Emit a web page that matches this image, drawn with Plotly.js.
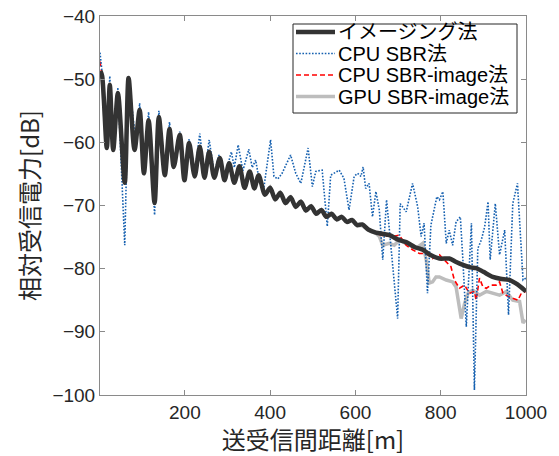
<!DOCTYPE html>
<html>
<head>
<meta charset="utf-8">
<script src="https://cdn.plot.ly/plotly-3.0.1.min.js"></script>
<style>html,body{margin:0;padding:0;background:#fff;}#chart{width:559px;height:456px;}</style>
</head>
<body>
<div id="chart"></div>
<script>
// イメージング法 (black)
const imgX = [2, 6, 17, 24, 32, 43, 59, 68, 82, 94, 104, 115, 129, 139, 153, 164, 174, 188, 199, 210, 223, 235, 246, 257, 269, 282, 293, 304, 316, 328, 340, 352, 363, 373, 388, 400, 412, 424, 436, 448, 460, 472, 484, 496, 508, 520, 532, 544, 556, 568, 580, 592, 604, 616, 630, 648, 665, 680, 700, 719, 740, 758, 775, 797, 820, 835, 852, 870, 883, 900, 922, 940, 962, 980, 1000];
const imgY = [-48.7, -49.5, -60.9, -50.9, -61.2, -52.2, -66.4, -49.8, -61.2, -54.9, -64.9, -56.5, -69.6, -56.0, -65.2, -57.9, -63.9, -58.8, -66.0, -60.1, -65.4, -60.7, -65.6, -61.5, -65.6, -62.5, -66.0, -63.3, -66.4, -63.8, -67.2, -64.6, -67.3, -65.2, -68.3, -67.2, -69.0, -68.0, -69.6, -68.7, -70.2, -69.4, -70.8, -70.1, -71.3, -70.7, -71.8, -71.3, -72.2, -71.8, -72.6, -72.3, -73.1, -73.0, -73.8, -74.3, -74.5, -74.7, -75.4, -75.8, -76.6, -77.0, -77.8, -78.4, -78.4, -78.9, -79.4, -79.8, -79.9, -80.5, -81.3, -81.6, -81.8, -82.5, -83.6];

// CPU SBR法 (blue dotted)
const cpuX = [1, 6, 17, 24, 32, 43, 59, 68, 86, 94, 104, 115, 129, 139, 153, 164, 174, 188, 199, 210, 223, 235, 246, 257, 269, 280, 293, 309, 316, 325, 336, 350, 358, 366, 373, 384, 401, 409, 418, 428, 448, 460, 472, 489, 499, 507, 522, 534, 542, 562, 573, 585, 597, 605, 613, 618, 624, 632, 640, 648, 656, 664, 673, 683, 699, 705, 719, 734, 746, 754, 761, 769, 777, 791, 797, 805, 813, 820, 828, 836, 846, 852, 860, 872, 879, 887, 895, 903, 911, 916, 928, 938, 950, 959, 969, 980, 985, 993, 1000];
const cpuY = [-45.8, -49.0, -60.5, -49.5, -61.5, -51.3, -76.3, -49.8, -60.5, -53.8, -64.0, -55.2, -71.5, -55.0, -65.0, -56.8, -63.5, -58.3, -65.5, -59.5, -65.0, -58.6, -65.2, -59.6, -65.0, -62.0, -65.5, -61.5, -64.0, -60.4, -64.5, -61.1, -64.0, -62.8, -65.5, -67.8, -59.6, -65.4, -65.8, -64.9, -62.0, -64.9, -66.5, -60.9, -67.0, -64.6, -64.4, -73.3, -65.2, -64.4, -65.7, -70.7, -65.4, -64.9, -65.4, -63.9, -67.3, -66.5, -71.8, -67.8, -70.7, -78.6, -69.1, -76.5, -87.9, -69.7, -71.0, -66.5, -70.2, -74.9, -72.8, -83.9, -73.1, -68.6, -69.1, -67.8, -76.0, -73.9, -76.3, -72.6, -71.8, -78.6, -89.2, -72.8, -99.2, -76.8, -75.5, -73.4, -69.4, -78.6, -69.7, -77.8, -73.9, -87.3, -69.7, -66.5, -72.3, -81.8, -81.5];

// CPU SBR-image法 (red dashed)
const cpuImgX = [1, 6, 17, 24, 32, 43, 59, 68, 82, 94, 104, 115, 129, 139, 153, 164, 174, 188, 199, 210, 223, 235, 246, 257, 269, 282, 293, 304, 316, 328, 340, 352, 363, 373, 388, 400, 412, 424, 436, 448, 460, 472, 484, 496, 508, 520, 532, 544, 556, 568, 580, 592, 604, 616, 630, 648, 665, 687, 703, 719, 734, 750, 766, 781, 797, 809, 816, 824, 832, 844, 856, 867, 879, 883, 891, 899, 907, 918, 930, 938, 946, 958, 969, 981, 989, 999];
const cpuImgY = [-47.2, -49.5, -60.9, -50.9, -61.2, -52.2, -66.4, -49.8, -61.2, -54.9, -64.9, -56.5, -69.6, -56.0, -65.2, -57.9, -63.9, -58.8, -66.0, -60.1, -65.4, -60.7, -65.6, -61.5, -65.6, -62.5, -66.0, -63.3, -66.4, -63.8, -67.2, -64.6, -67.3, -65.2, -68.3, -67.2, -69.0, -68.0, -69.6, -68.7, -70.2, -69.4, -70.8, -70.1, -71.3, -70.7, -71.8, -71.3, -72.2, -71.8, -72.6, -72.3, -73.1, -73.0, -73.8, -74.4, -74.8, -74.9, -74.7, -76.3, -77.0, -77.6, -77.6, -78.4, -77.8, -78.6, -79.1, -79.7, -81.8, -83.1, -82.6, -83.9, -83.6, -85.0, -81.5, -82.9, -83.1, -82.6, -82.6, -82.1, -83.9, -84.4, -84.7, -85.0, -83.9, -83.6];

// GPU SBR-image法 (gray)
const gpuImgX = [2, 6, 17, 24, 32, 43, 59, 68, 82, 94, 104, 115, 129, 139, 153, 164, 174, 188, 199, 210, 223, 235, 246, 257, 269, 282, 293, 304, 316, 328, 340, 352, 363, 373, 388, 400, 412, 424, 436, 448, 460, 472, 484, 496, 508, 520, 532, 544, 556, 568, 580, 592, 604, 616, 632, 648, 656, 664, 679, 691, 703, 719, 742, 758, 766, 773, 781, 789, 797, 813, 828, 836, 848, 856, 864, 875, 891, 907, 922, 938, 954, 969, 985, 993, 999];
const gpuImgY = [-48.7, -49.5, -60.9, -50.9, -61.2, -52.2, -66.4, -49.8, -61.2, -54.9, -64.9, -56.5, -69.6, -56.0, -65.2, -57.9, -63.9, -58.8, -66.0, -60.1, -65.4, -60.7, -65.6, -61.5, -65.6, -62.5, -66.0, -63.3, -66.4, -63.8, -67.2, -64.6, -67.3, -65.2, -68.3, -67.2, -69.0, -68.0, -69.6, -68.7, -70.2, -69.4, -70.8, -70.1, -71.3, -70.7, -71.8, -71.3, -72.2, -71.8, -72.6, -72.3, -73.1, -73.2, -73.9, -74.4, -74.9, -76.3, -76.0, -76.3, -75.5, -76.0, -76.8, -76.0, -78.6, -82.3, -82.1, -81.3, -81.3, -81.8, -82.1, -82.9, -87.9, -85.5, -83.9, -83.4, -84.2, -83.6, -83.9, -84.2, -83.6, -85.0, -85.2, -88.6, -88.1];

const seriesNames = ['イメージング法', 'CPU SBR法', 'CPU SBR-image法', 'GPU SBR-image法'];
const xTicks = [200, 400, 600, 800, 1000];
const yTicks = [-100, -90, -80, -70, -60, -50, -40];

const numFont = 'Liberation Sans, Arial, Noto Sans CJK JP, sans-serif';
const jpFont = 'Noto Sans CJK JP, Liberation Sans, sans-serif';

const styles = [
  {color: '#333333', width: 4.5, dash: 'solid'},
  {color: '#1560b0', width: 1.6, dash: '1.6px,1.6px'},
  {color: '#ff0000', width: 1.6, dash: '5px,3px'},
  {color: '#bdbdbd', width: 3.5, dash: 'solid'}
];

const traces = [
  {x: gpuImgX, y: gpuImgY, name: seriesNames[3], mode: 'lines', line: styles[3]},
  {x: cpuImgX, y: cpuImgY, name: seriesNames[2], mode: 'lines', line: styles[2]},
  {x: cpuX, y: cpuY, name: seriesNames[1], mode: 'lines', line: styles[1]},
  {x: imgX, y: imgY, name: seriesNames[0], mode: 'lines',
   line: Object.assign({}, styles[0], {shape: 'spline', smoothing: 0.8})}
];

// hand-built legend (MATLAB style box)
const px2x = p => (p - 100) / 426;
const py2y = p => 1 - (p - 16) / 379;
const rowY = [32, 53.5, 75, 96.5];
const shapes = [{
  type: 'rect', xref: 'paper', yref: 'paper',
  x0: px2x(293), x1: px2x(517), y0: py2y(113), y1: py2y(24),
  fillcolor: '#ffffff', line: {color: '#262626', width: 1}, layer: 'above'
}];
const annotations = [];
seriesNames.forEach((nm, i) => {
  shapes.push({type: 'line', xref: 'paper', yref: 'paper',
    x0: px2x(296), x1: px2x(335), y0: py2y(rowY[i]), y1: py2y(rowY[i]),
    line: {color: styles[i].color, width: styles[i].width, dash: styles[i].dash}, layer: 'above'});
  annotations.push({xref: 'paper', yref: 'paper', x: px2x(336), y: py2y(rowY[i]),
    xanchor: 'left', yanchor: 'middle', showarrow: false, text: nm,
    font: {family: numFont, size: 20, color: '#000000'}});
});

const axisCommon = {
  showgrid: false, zeroline: false, showline: true, mirror: 'ticks',
  linecolor: '#8a8a8a', linewidth: 1, ticks: 'inside', ticklen: 5,
  tickcolor: '#8a8a8a', tickwidth: 1,
  tickfont: {family: numFont, size: 19, color: '#262626'}
};

const layout = {
  width: 559, height: 456,
  margin: {l: 100, r: 33, t: 16, b: 61},
  paper_bgcolor: '#ffffff', plot_bgcolor: '#ffffff',
  showlegend: false,
  shapes: shapes,
  annotations: annotations,
  xaxis: Object.assign({}, axisCommon, {
    range: [1, 1000], tickvals: xTicks, ticktext: xTicks.map(String),
    title: {text: '送受信間距離[m]', font: {family: jpFont, size: 24, color: '#262626'}, standoff: 4}
  }),
  yaxis: Object.assign({}, axisCommon, {
    range: [-100, -40], tickvals: yTicks, ticktext: yTicks.map(v => '\u2212' + Math.abs(v)),
    title: {text: '相対受信電力[dB]', font: {family: jpFont, size: 24, color: '#262626'}, standoff: 6}
  })
};

Plotly.newPlot('chart', traces, layout, {displayModeBar: false, staticPlot: true});
</script>
</body>
</html>
